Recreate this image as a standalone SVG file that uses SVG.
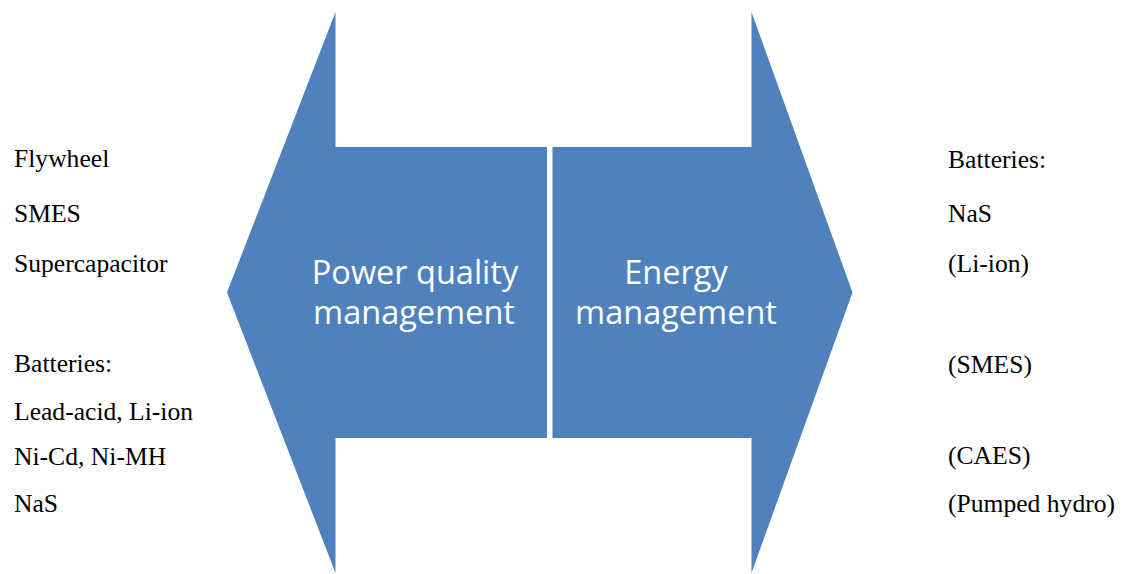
<svg xmlns="http://www.w3.org/2000/svg" width="1131" height="574" viewBox="0 0 1131 574">
  <style>
    .arrow { fill: #4F81BD; }
    .inner { font-family: "Open Sans", "Liberation Sans", sans-serif; font-size: 32.5px; fill: #FFFFFF; text-anchor: middle; }
    .item { font-family: "Liberation Serif", "Times New Roman", serif; font-size: 25.6px; fill: #000000; }
  </style>
  <rect width="1131" height="574" fill="#FFFFFF"/>

  <!-- Left-pointing arrow: power quality applications -->
  <g id="power-quality">
    <path class="arrow" d="M227,292.5 L335.5,12 L335.5,147 L547,147 L547,438 L335.5,438 L335.5,573 Z"/>
    <text class="inner" x="415" y="284">Power quality</text>
    <text class="inner" x="414" y="324">management</text>
  </g>

  <!-- Right-pointing arrow: energy management applications -->
  <g id="energy-management">
    <path class="arrow" d="M552.5,147 L751.5,147 L751.5,12 L852.5,292.5 L751.5,573 L751.5,438 L552.5,438 Z"/>
    <text class="inner" x="676" y="284">Energy</text>
    <text class="inner" x="676" y="324">management</text>
  </g>

  <!-- Technologies suited to power quality -->
  <g id="left-list" class="item">
    <text x="14" y="167">Flywheel</text>
    <text x="14" y="222">SMES</text>
    <text x="14" y="272">Supercapacitor</text>
    <text x="14" y="372">Batteries:</text>
    <text x="14" y="420">Lead-acid, Li-ion</text>
    <text x="14" y="465">Ni-Cd, Ni-MH</text>
    <text x="14" y="512">NaS</text>
  </g>

  <!-- Technologies suited to energy management -->
  <g id="right-list" class="item">
    <text x="948" y="168">Batteries:</text>
    <text x="948" y="222">NaS</text>
    <text x="948" y="272">(Li-ion)</text>
    <text x="948" y="373">(SMES)</text>
    <text x="948" y="464">(CAES)</text>
    <text x="948" y="512">(Pumped hydro)</text>
  </g>
</svg>
